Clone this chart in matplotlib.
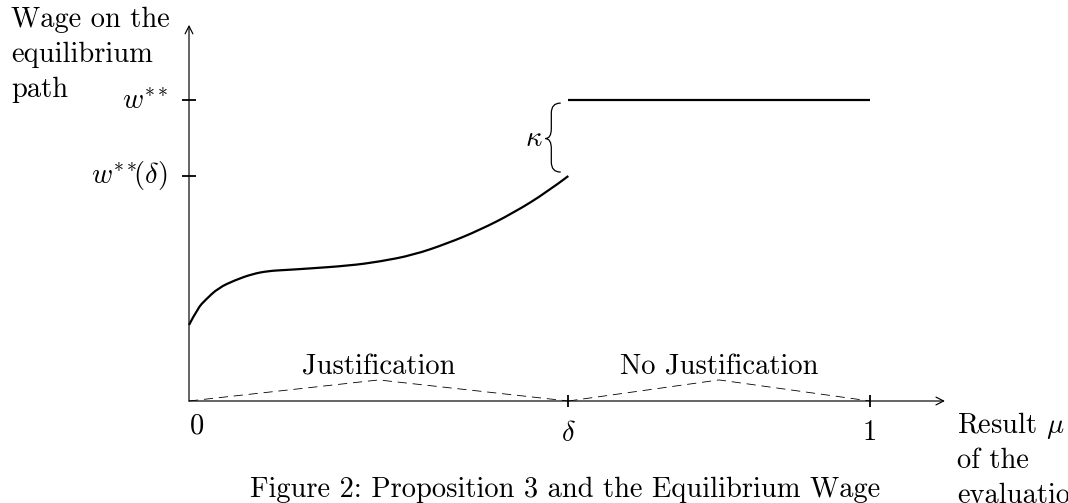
import matplotlib
matplotlib.use('Agg')
import matplotlib.pyplot as plt
from matplotlib.path import Path
from matplotlib.patches import PathPatch

plt.rcParams['font.family'] = ['cmr10', 'DejaVu Serif']
plt.rcParams['mathtext.fontset'] = 'cm'
plt.rcParams['axes.formatter.use_mathtext'] = True

# ---------------- data ----------------
mu_values = [0.000, 0.013, 0.024, 0.043, 0.068, 0.093, 0.116, 0.141, 0.170,
             0.236, 0.280, 0.329, 0.379, 0.427, 0.476, 0.526, 0.557]
wage_values = [0.758, 0.927, 1.007, 1.127, 1.206, 1.266, 1.296, 1.306, 1.318,
               1.350, 1.390, 1.455, 1.570, 1.705, 1.874, 2.084, 2.243]
delta = 0.557
w_star = 3.0
w_star_delta = 2.243
kappa_label = r'$\kappa$'
region_bounds = [0.0, delta, 1.0]
region_labels = ['Justification', 'No Justification']
region_peak = 0.21
x_tick_values = [0.0, delta, 1.0]
x_tick_labels = ['0', r'$\delta$', '1']
y_tick_values = [w_star, w_star_delta]
y_tick_labels = [r'$w^{**}$', r'$w^{**}\!\!(\delta)$']
y_title_lines = ['Wage on the', 'equilibrium', 'path']
x_title_lines = [r'Result $\mu$', 'of the', 'evaluation']
caption = 'Figure 2: Proposition 3 and the Equilibrium Wage'
x_axis_end = 1.11
y_axis_end = 3.75

# ---------------- layout ----------------
W, H = 1068, 503
X0, XS = 189, 681.0     # pixel of mu=0, pixels per unit mu
Y0, YS = 401, 100.3     # pixel of wage=0, pixels per unit wage
FS = 20.5

fig = plt.figure(figsize=(W / 100, H / 100), dpi=100)
ax = fig.add_axes([0, 0, 1, 1])
ax.set_xlim(-X0 / XS, (W - X0) / XS)
ax.set_ylim(-(H - Y0) / YS, Y0 / YS)
ax.axis('off')

def ftext(px, py, s, **kw):
    fig.text(px / W, 1 - py / H, s, fontsize=FS, va='baseline', **kw)

# axes with arrows
arrow = dict(arrowstyle='->,head_length=0.55,head_width=0.28', lw=0.85,
             color='black', shrinkA=0, shrinkB=0)
ax.annotate('', xy=(0, y_axis_end), xytext=(0, 0), arrowprops=arrow)
ax.annotate('', xy=(x_axis_end, 0), xytext=(0, 0), arrowprops=arrow)

# ticks
ax.plot([0] * len(y_tick_values), y_tick_values, ls='none', marker='_',
        ms=10, mew=1.3, color='black')
ax.plot(x_tick_values[1:], [0] * (len(x_tick_values) - 1), ls='none',
        marker='|', ms=9, mew=1.3, color='black')

# tick labels
x_offsets = [(8, -32), (0, -40), (0, -39)]
for v, lab, off in zip(x_tick_values, x_tick_labels, x_offsets):
    ax.annotate(lab, xy=(v, 0), xytext=off, textcoords='offset pixels',
                ha='center', va='baseline', fontsize=FS)
y_offsets = [(-21, -10), (-21, -7)]
for v, lab, off in zip(y_tick_values, y_tick_labels, y_offsets):
    ax.annotate(lab, xy=(0, v), xytext=off, textcoords='offset pixels',
                ha='right', va='baseline', fontsize=FS)

# dashed region triangles + labels
for i, lab in enumerate(region_labels):
    a, b = region_bounds[i], region_bounds[i + 1]
    m = (a + b) / 2
    ax.plot([a, m, b], [0, region_peak, 0], color='black', lw=0.6,
            ls=(0, (11, 7)))
    ax.annotate(lab, xy=(m, region_peak), xytext=(0, 5),
                textcoords='offset pixels', ha='center', va='baseline',
                fontsize=FS)

# equilibrium wage curve: smooth quadratic-Bezier rendering of the read points
pts = list(zip(mu_values, wage_values))
cverts = [pts[0]]
ccodes = [Path.MOVETO]
for k in range(1, len(pts) - 1):
    nxt = pts[k + 1] if k + 1 < len(pts) - 1 else pts[-1]
    end = nxt if k + 1 == len(pts) - 1 else ((pts[k][0] + pts[k + 1][0]) / 2,
                                             (pts[k][1] + pts[k + 1][1]) / 2)
    cverts += [pts[k], end]
    ccodes += [Path.CURVE3, Path.CURVE3]
ax.add_patch(PathPatch(Path(cverts, ccodes), fill=False, lw=1.6,
                       edgecolor='black', capstyle='butt', joinstyle='round'))
ax.plot([delta, 1.0], [w_star, w_star], color='black', lw=1.6,
        solid_capstyle='butt')

# brace (kappa)
x_end = delta - 8 / XS
x_sp = delta - 17 / XS
x_tip = delta - 23 / XS
y_top = w_star - 3 / YS
y_bot = w_star_delta + 4 / YS
y_mid = (y_top + y_bot) / 2 - 1 / YS
r = 10 / YS
verts = [(x_end, y_top), (x_sp, y_top), (x_sp, y_top - r),
         (x_sp, y_mid + r), (x_sp, y_mid), (x_tip, y_mid),
         (x_sp, y_mid), (x_sp, y_mid - r),
         (x_sp, y_bot + r), (x_sp, y_bot), (x_end, y_bot)]
codes = [Path.MOVETO, Path.CURVE3, Path.CURVE3,
         Path.LINETO, Path.CURVE3, Path.CURVE3,
         Path.CURVE3, Path.CURVE3,
         Path.LINETO, Path.CURVE3, Path.CURVE3]
ax.add_patch(PathPatch(Path(verts, codes), fill=False, lw=0.9,
                       edgecolor='black', capstyle='round'))
ax.annotate(kappa_label, xy=(delta, (w_star + w_star_delta) / 2),
            xytext=(-26, -8), textcoords='offset pixels', ha='right',
            va='baseline', fontsize=FS)

# titles
for i, line in enumerate(y_title_lines):
    ftext(11, 27 + 35 * i, line, ha='left')
for i, line in enumerate(x_title_lines):
    ftext(957, 433 + 35 * i, line, ha='left')
ftext(565, 497, caption, ha='center')

fig.savefig('out.png', dpi=100)
